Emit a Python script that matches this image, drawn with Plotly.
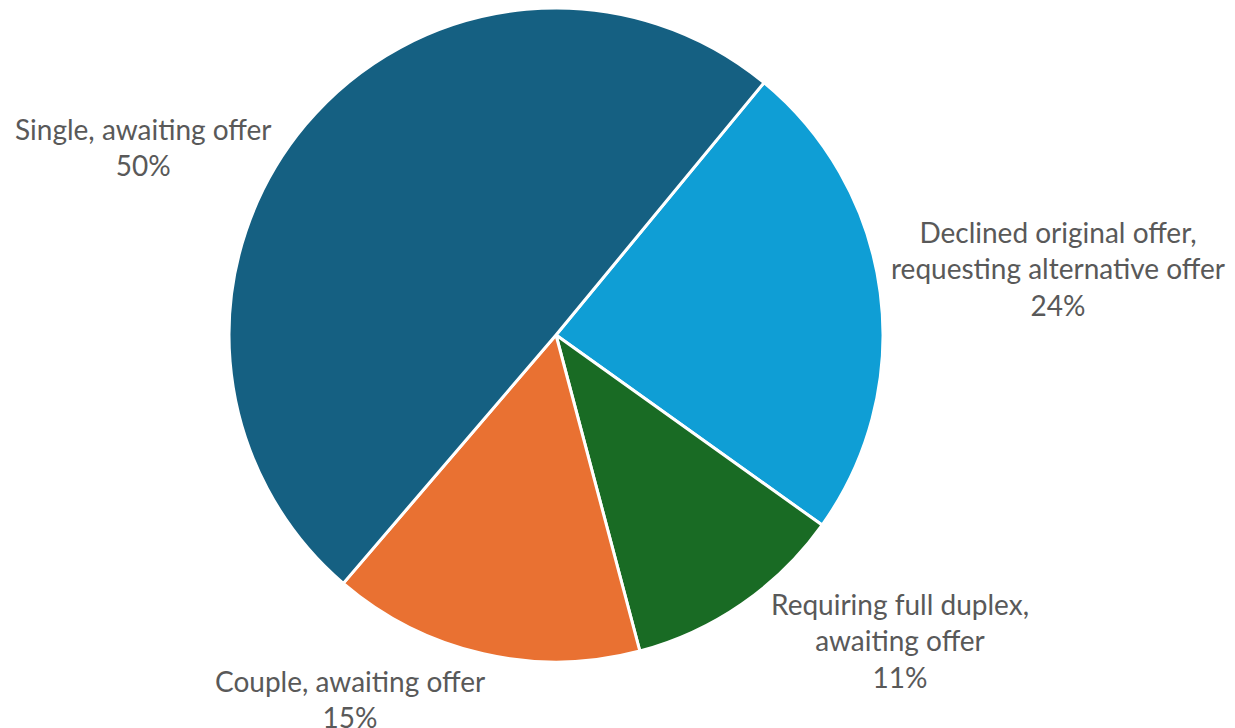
import plotly.graph_objects as go

# Data (clockwise order starting at the top-right boundary)
labels = ["Declined original offer,<br>requesting alternative offer",
          "Requiring full duplex,<br>awaiting offer",
          "Couple, awaiting offer",
          "Single, awaiting offer"]
values = [23.9, 11.0, 15.4, 49.7]
colors = ["#0F9ED5", "#196B24", "#E97132", "#156082"]

W, H = 1235, 728

# label anchor positions (figure pixels from top-left)
label_px = [1050, 892, 342, 135]
label_py = [260, 632, 691, 139]

cx, cy, r = 548, 327, 327

fig = go.Figure(go.Pie(
    labels=labels,
    values=values,
    sort=False,
    direction="clockwise",
    rotation=39.5,
    marker=dict(colors=colors, line=dict(color="white", width=3)),
    textinfo="none",
    hoverinfo="label+percent",
    domain=dict(x=[(cx - r) / W, (cx + r) / W],
                y=[1 - (cy + r) / H, 1]),
    showlegend=False,
))

total = sum(values)
for lab, v, px, py in zip(labels, values, label_px, label_py):
    fig.add_annotation(
        x=px / W, y=1 - py / H, xref="paper", yref="paper",
        text=f"{lab}<br>{round(v / total * 100)}%",
        showarrow=False, align="center",
        xanchor="center", yanchor="middle",
        font=dict(family="Lato", size=28, color="#595959"),
    )

fig.update_layout(
    width=W, height=H,
    margin=dict(l=0, r=0, t=0, b=0),
    paper_bgcolor="white",
    plot_bgcolor="white",
)

fig.write_html("out.html")
